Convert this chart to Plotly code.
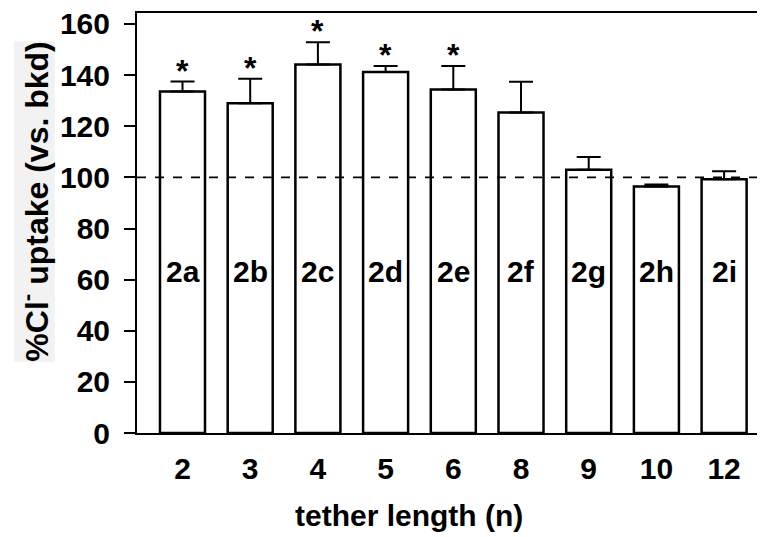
import plotly.graph_objects as go

categories = ["2", "3", "4", "5", "6", "8", "9", "10", "12"]
compounds = ["2a", "2b", "2c", "2d", "2e", "2f", "2g", "2h", "2i"]
values = [133.6, 129.0, 144.2, 141.2, 134.4, 125.4, 103.0, 96.4, 99.3]
errors = [3.9, 9.6, 8.7, 2.4, 9.2, 12.0, 5.0, 0.8, 3.1]
signif = ["*", "*", "*", "*", "*", "", "", "", ""]
baseline = 100

FONT = "Arial, Liberation Sans, sans-serif"
x = list(range(len(categories)))

# page body has an 8px margin; figure sized so plot area lands where the reference has it
W, H = 757, 529
L, T, B = 129, 2, 104
pw, ph = W - L, H - T - B

fig = go.Figure()
fig.add_trace(go.Bar(
    x=x, y=values, width=0.665,
    marker=dict(color="white", line=dict(color="black", width=2.5)),
    error_y=dict(type="data", array=errors, arrayminus=[0]*len(errors),
                 symmetric=False, color="black", thickness=2, width=12),
    showlegend=False,
))

fig.add_shape(type="line", xref="paper", x0=0, x1=1, yref="y", y0=baseline, y1=baseline,
              line=dict(color="black", width=1.8, dash="dash"), layer="above")

for i, (c, v, e, s) in enumerate(zip(compounds, values, errors, signif)):
    fig.add_annotation(x=i, y=63, text=f"<b>{c}</b>", showarrow=False,
                       font=dict(family=FONT, size=30, color="black"))
    if s:
        fig.add_annotation(x=i, y=v + e, text=f"<b>{s}</b>", showarrow=False,
                           yanchor="bottom", yshift=-9,
                           font=dict(family=FONT, size=32, color="black"))

# page coords -> paper coords
def px(xp):
    return (xp - 8 - L) / pw

def py(yp):
    return (H - B - (yp - 8)) / ph

fig.add_annotation(xref="paper", yref="paper", x=px(409), y=py(516),
                   text="<b>tether length (n)</b>", showarrow=False,
                   xanchor="center", yanchor="middle",
                   font=dict(family=FONT, size=30, color="black"))
fig.add_annotation(xref="paper", yref="paper", x=px(34), y=py(200),
                   text="<b>%Cl<sup>-</sup> uptake (vs. bkd)</b>", showarrow=False,
                   textangle=-90, xanchor="center", yanchor="middle",
                   bgcolor="#f2f2f2", borderpad=0,
                   font=dict(family=FONT, size=32, color="black"))

fig.update_layout(
    width=W, height=H,
    margin=dict(l=L, r=0, t=T, b=B),
    plot_bgcolor="white", paper_bgcolor="white",
    xaxis=dict(range=[-0.672, 8.604], tickmode="array", tickvals=x, ticktext=categories,
               showline=True, linecolor="black", linewidth=2, mirror=True,
               ticks="", ticklabelstandoff=8, showgrid=False, zeroline=False,
               tickfont=dict(family=FONT, size=30, color="black", weight="bold")),
    yaxis=dict(range=[0, 164.3], tickmode="array", tickvals=list(range(0, 161, 20)),
               showline=True, linecolor="black", linewidth=2,
               ticks="outside", ticklen=11, tickwidth=2, tickcolor="black",
               ticklabelstandoff=8, ticklabeloverflow="allow",
               showgrid=False, zeroline=False,
               tickfont=dict(family=FONT, size=30, color="black", weight="bold")),
)

fig.write_html("out.html")
